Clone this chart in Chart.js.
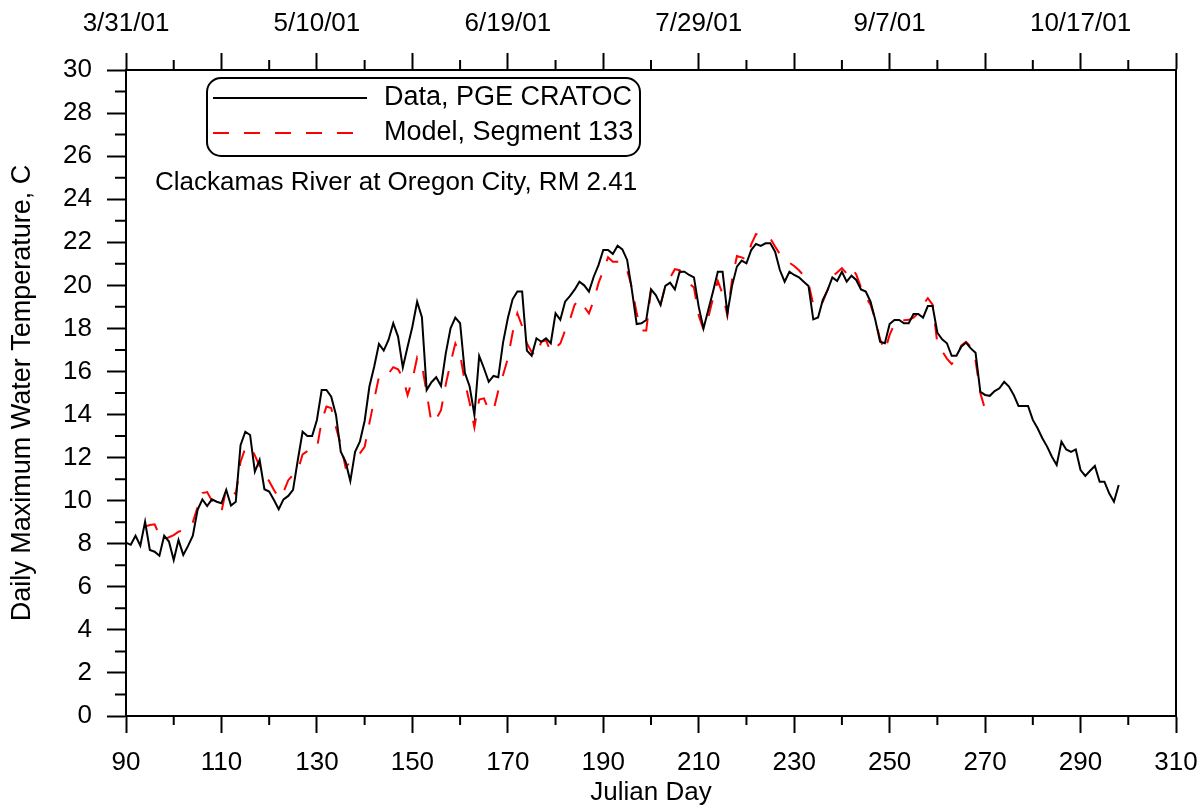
<!DOCTYPE html>
<html>
<head>
<meta charset="utf-8">
<script src="https://cdn.jsdelivr.net/npm/chart.js@4.4.1/dist/chart.umd.min.js"></script>
<style>
  html, body { margin: 0; padding: 0; background: #fff; }
  canvas { display: block; }
</style>
</head>
<body>
<canvas id="grafico" width="1203" height="808"></canvas>
<script>
const FUENTE = '"Liberation Sans", Arial, sans-serif';
const TAM_TEXTO = 26;
const TAM_LEYENDA = 27;
const DIA_MIN = 90;
const DIA_MAX = 310;

// serie medida, un valor por dia juliano desde DIA_INICIO_DATOS
const DIA_INICIO_DATOS = 90;
const temperaturasDatos = [
    8.05, 7.95, 8.37, 7.91, 9.02, 7.71, 7.63, 7.44, 8.37, 8.1,
    7.24, 8.17, 7.48, 7.9, 8.37, 9.57, 10.06, 9.75, 10.06, 9.95,
    9.88, 10.5, 9.77, 9.95, 12.58, 13.2, 13.05, 11.35, 11.89, 10.53,
    10.42, 10.03, 9.6, 10.06, 10.22, 10.5, 11.89, 13.2, 13.0, 13.0,
    13.75, 15.14, 15.14, 14.83, 13.98, 12.27, 11.81, 10.91, 12.27, 12.74,
    13.7, 15.3, 16.22, 17.28, 16.97, 17.46, 18.24, 17.62, 16.19, 17.15,
    18.08, 19.24, 18.52, 15.14, 15.5, 15.73, 15.33, 16.84, 18.0, 18.5,
    18.24, 15.94, 15.3, 13.98, 16.72, 16.15, 15.52, 15.79, 15.73, 17.34,
    18.47, 19.35, 19.71, 19.71, 16.97, 16.73, 17.54, 17.38, 17.54, 17.31,
    18.7, 18.4, 19.24, 19.5, 19.8, 20.17, 20.0, 19.71, 20.4, 20.94,
    21.64, 21.64, 21.46, 21.84, 21.67, 21.18, 19.78, 18.2, 18.24, 18.39,
    19.81, 19.55, 19.09, 19.97, 20.12, 19.81, 20.63, 20.63, 20.48, 20.37,
    19.0, 18.0, 18.85, 19.71, 20.63, 20.63, 18.7, 20.0, 20.87, 21.15,
    21.02, 21.64, 21.92, 21.83, 21.95, 21.95, 21.56, 20.71, 20.17, 20.63,
    20.48, 20.37, 20.17, 19.97, 18.42, 18.51, 19.32, 19.78, 20.37, 20.2,
    20.63, 20.17, 20.45, 20.25, 19.81, 19.71, 19.24, 18.39, 17.38, 17.31,
    18.2, 18.39, 18.39, 18.24, 18.24, 18.67, 18.67, 18.5, 19.04, 19.04,
    17.8, 17.49, 17.31, 16.73, 16.73, 17.15, 17.34, 17.07, 16.87, 15.06,
    14.91, 14.87, 15.09, 15.22, 15.52, 15.3, 14.91, 14.4, 14.4, 14.4,
    13.75, 13.36, 12.9, 12.51, 12.04, 11.66, 12.74, 12.38, 12.27, 12.38,
    11.42, 11.15, 11.39, 11.61, 10.88, 10.88, 10.34, 9.95, 10.73
];

// serie del modelo, desde DIA_INICIO_MODELO
const DIA_INICIO_MODELO = 94;
const temperaturasModelo = [
    8.8, 8.87, 8.9, 8.4, 8.2, 8.3,
    8.4, 8.56, 8.63, 8.7, 9.0, 9.7, 10.35, 10.4, 10.0, 9.8,
    9.49, 10.55, 10.53, 10.3, 11.8, 12.45, 12.53, 12.1, 11.6, 11.25,
    10.9, 10.5, 10.12, 10.4, 10.95, 11.2, 11.4, 12.15, 12.3, 12.43,
    12.43, 13.7, 14.37, 14.3, 13.4, 12.6, 11.55, 11.8, 12.0, 12.2,
    12.5, 13.6, 14.7, 15.75, 15.7, 15.9, 16.2, 16.1, 15.73, 14.9,
    15.6, 16.65, 16.3, 15.0, 13.6, 13.8, 14.2, 15.4, 16.4, 17.3,
    16.8, 15.5, 14.55, 13.4, 14.7, 14.75, 14.2, 14.2, 15.1, 15.84,
    16.6, 17.8, 18.7, 18.1, 17.3, 16.9, 16.7, 17.38, 17.45, 16.9,
    17.1, 17.3, 17.9, 18.4, 19.1, 19.35, 19.0, 18.7, 19.3, 20.1,
    20.7, 21.3, 21.1, 21.1, 21.1, 20.7, 19.9, 18.7, 17.9, 17.9,
    19.78, 19.55, 19.1, 19.97, 20.35, 20.75, 20.7, 20.4, 20.1, 19.9,
    18.6, 17.95, 18.5, 19.4, 20.2, 19.6, 18.6, 20.3, 21.36, 21.3,
    21.2, 21.9, 22.38, 22.3, 22.18, 22.18, 21.8, 21.45, 21.2, 21.05,
    20.9, 20.7, 20.45, 20.1, 19.1, 18.95, 19.24, 19.8, 20.4, 20.6,
    20.8, 20.55, 20.85, 20.5, 19.9, 19.45, 19.1, 18.4, 17.5, 16.95,
    17.7, 18.2, 18.4, 18.38, 18.4, 18.5, 18.7, 19.1, 19.4, 19.1,
    17.3, 16.95, 16.6, 16.35, 16.6, 17.2, 17.38, 17.15, 16.5, 15.0,
    14.24, 14.44
];

// eje superior: fechas
const diasFechas = [90, 130, 170, 210, 250, 290];
const etiquetasFechas = ['3/31/01', '5/10/01', '6/19/01', '7/29/01', '9/7/01', '10/17/01'];

const etiquetaDatos = 'Data, PGE CRATOC';
const etiquetaModelo = 'Model, Segment 133';
const textoEstacion = 'Clackamas River at Oregon City, RM 2.41';

function aPuntos(diaInicio, valores) {
    return valores.map((v, i) => ({ x: diaInicio + i, y: v }));
}

// marcas principales cada 20 dias empezando en 90
function esMarcaX(v) {
    return (v - DIA_MIN) % 20 === 0;
}

const TRANSPARENTE = 'rgba(0,0,0,0)';

function dibujarMarcasMenores(chart) {
    const ctx = chart.ctx;
    const area = chart.chartArea;
    ctx.save();
    ctx.strokeStyle = '#000';
    ctx.lineWidth = 2;
    ctx.beginPath();
    chart.scales.x.ticks.forEach(t => {
        if (esMarcaX(t.value)) return;
        const px = chart.scales.x.getPixelForValue(t.value);
        ctx.moveTo(px, area.bottom);
        ctx.lineTo(px, area.bottom + 9);
        ctx.moveTo(px, area.top);
        ctx.lineTo(px, area.top - 10);
    });
    chart.scales.y.ticks.forEach(t => {
        if (t.value % 2 === 0) return;
        const py = chart.scales.y.getPixelForValue(t.value);
        ctx.moveTo(area.left - 11, py);
        ctx.lineTo(area.left, py);
    });
    // borde derecho
    ctx.moveTo(area.right, area.top - 1);
    ctx.lineTo(area.right, area.bottom + 1);
    ctx.stroke();
    ctx.restore();
}

function dibujarLeyenda(chart) {
    const ctx = chart.ctx;
    ctx.save();
    ctx.fillStyle = '#fff';
    ctx.strokeStyle = '#000';
    ctx.lineWidth = 2;
    ctx.beginPath();
    ctx.roundRect(207, 78, 433, 78, 14);
    ctx.fill();
    ctx.stroke();

    ctx.font = TAM_LEYENDA + 'px ' + FUENTE;
    ctx.textBaseline = 'middle';
    chart.data.datasets.forEach((ds, i) => {
        const yy = 98 + i * 35;
        ctx.strokeStyle = ds.borderColor;
        ctx.lineWidth = ds.borderWidth;
        ctx.setLineDash(ds.borderDash || []);
        ctx.beginPath();
        ctx.moveTo(213, yy);
        ctx.lineTo(367, yy);
        ctx.stroke();
        ctx.setLineDash([]);
        ctx.fillStyle = '#000';
        ctx.fillText(ds.label, 384, yy);
    });

    ctx.font = TAM_TEXTO + 'px ' + FUENTE;
    ctx.fillText(textoEstacion, 155, 183);
    ctx.restore();
}

const pluginExtras = {
    id: 'extras',
    afterDraw(chart) {
        dibujarMarcasMenores(chart);
        dibujarLeyenda(chart);
    }
};

Chart.defaults.font.family = FUENTE;
Chart.defaults.font.size = TAM_TEXTO;
Chart.defaults.color = '#000';

const ejeX = (posicion, alto, callback) => ({
    type: 'linear',
    position: posicion,
    min: DIA_MIN,
    max: DIA_MAX,
    afterFit: s => {
        s.height = alto;
        s.paddingLeft = 0;
        s.paddingRight = 0;
    },
    border: { display: true, color: '#000', width: 2 },
    grid: {
        drawOnChartArea: false,
        tickLength: 17,
        tickWidth: 2,
        tickColor: c => (c.tick && esMarcaX(c.tick.value) ? '#000' : TRANSPARENTE)
    },
    ticks: {
        stepSize: 10,
        autoSkip: false,
        maxRotation: 0,
        padding: 14,
        callback: callback
    }
});

const escalaX = ejeX('bottom', 92, v => (esMarcaX(v) ? String(v) : ''));
escalaX.title = { display: true, text: 'Julian Day', padding: { top: 0, bottom: 0 } };

const escalaX2 = ejeX('top', 70, v => {
    const i = diasFechas.indexOf(v);
    return i >= 0 ? etiquetasFechas[i] : '';
});

new Chart(document.getElementById('grafico'), {
    type: 'line',
    data: {
        datasets: [
            {
                label: etiquetaDatos,
                data: aPuntos(DIA_INICIO_DATOS, temperaturasDatos),
                borderColor: '#000000',
                borderWidth: 2,
                pointRadius: 0,
                tension: 0
            },
            {
                label: etiquetaModelo,
                data: aPuntos(DIA_INICIO_MODELO, temperaturasModelo),
                borderColor: '#ff0000',
                borderWidth: 2,
                borderDash: [16, 15],
                pointRadius: 0,
                tension: 0
            }
        ]
    },
    options: {
        responsive: false,
        animation: false,
        devicePixelRatio: 1,
        layout: { padding: { left: 0, right: 27, top: 0, bottom: 0 } },
        plugins: {
            legend: { display: false },
            tooltip: { enabled: false }
        },
        scales: {
            x: escalaX,
            x2: escalaX2,
            y: {
                min: 0,
                max: 30,
                afterFit: s => {
                    s.width = 126;
                    s.paddingTop = 0;
                    s.paddingBottom = 0;
                },
                border: { display: true, color: '#000', width: 2 },
                grid: {
                    drawOnChartArea: false,
                    tickLength: 19,
                    tickWidth: 2,
                    tickColor: c => (c.tick && c.tick.value % 2 === 0 ? '#000' : TRANSPARENTE)
                },
                ticks: {
                    stepSize: 1,
                    autoSkip: false,
                    padding: 15,
                    callback: v => (v % 2 === 0 ? String(v) : '')
                },
                title: {
                    display: true,
                    text: 'Daily Maximum Water Temperature, C',
                    font: { size: 27 },
                    padding: { top: 6, bottom: 0 }
                }
            }
        }
    },
    plugins: [pluginExtras]
});
</script>
</body>
</html>
